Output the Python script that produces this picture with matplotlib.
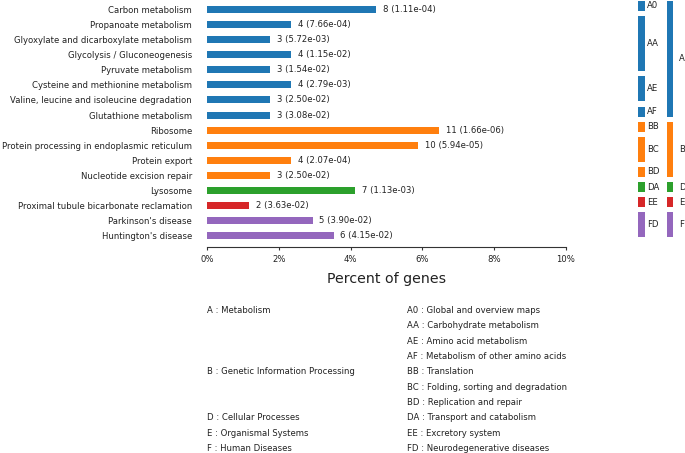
import matplotlib
matplotlib.use("Agg")
import matplotlib.pyplot as plt

categories = [
    "Carbon metabolism", "Propanoate metabolism",
    "Glyoxylate and dicarboxylate metabolism", "Glycolysis / Gluconeogenesis",
    "Pyruvate metabolism", "Cysteine and methionine metabolism",
    "Valine, leucine and isoleucine degradation", "Glutathione metabolism",
    "Ribosome", "Protein processing in endoplasmic reticulum",
    "Protein export", "Nucleotide excision repair", "Lysosome",
    "Proximal tubule bicarbonate reclamation", "Parkinson's disease",
    "Huntington's disease",
]
counts = [8, 4, 3, 4, 3, 4, 3, 3, 11, 10, 4, 3, 7, 2, 5, 6]
pvalues = ["1.11e-04", "7.66e-04", "5.72e-03", "1.15e-02", "1.54e-02",
           "2.79e-03", "2.50e-02", "3.08e-02", "1.66e-06", "5.94e-05",
           "2.07e-04", "2.50e-02", "1.13e-03", "3.63e-02", "3.90e-02",
           "4.15e-02"]
percents = [4.71, 2.35, 1.76, 2.35, 1.76, 2.35, 1.76, 1.76,
            6.47, 5.88, 2.35, 1.76, 4.12, 1.18, 2.94, 3.53]
main_class = ["A"] * 8 + ["B"] * 4 + ["D", "E", "F", "F"]
sub_class = ["A0", "AA", "AA", "AA", "AA", "AE", "AE", "AF",
             "BB", "BC", "BC", "BD", "DA", "EE", "FD", "FD"]
main_names = {"A": "Metabolism", "B": "Genetic Information Processing",
              "D": "Cellular Processes", "E": "Organismal Systems",
              "F": "Human Diseases"}
sub_names = {"A0": "Global and overview maps", "AA": "Carbohydrate metabolism",
             "AE": "Amino acid metabolism", "AF": "Metabolism of other amino acids",
             "BB": "Translation", "BC": "Folding, sorting and degradation",
             "BD": "Replication and repair", "DA": "Transport and catabolism",
             "EE": "Excretory system", "FD": "Neurodegenerative diseases"}
xticks = [0, 2, 4, 6, 8, 10]
xticklabels = ["0%", "2%", "4%", "6%", "8%", "10%"]

colors = {"A": "#1f77b4", "B": "#ff7f0e", "D": "#2ca02c",
          "E": "#d62728", "F": "#9467bd"}

W, H = 685, 453
fig = plt.figure(figsize=(W / 100, H / 100), dpi=100)
FS = 6.1
TXT = "#222222"

ax_bottom = (H - 247.3) / H
ax_top = 1.0
ylim = (15.76, -0.62)

ax = fig.add_axes([207 / W, ax_bottom, (566 - 207) / W, ax_top - ax_bottom])
ypos = list(range(len(categories)))
bar_colors = [colors[m] for m in main_class]
ax.barh(ypos, percents, height=0.46, color=bar_colors)
for y, p, c, pv in zip(ypos, percents, counts, pvalues):
    ax.annotate(f"{c} ({pv})", xy=(p, y), xytext=(4.8, 0),
                textcoords="offset points", ha="left", va="center",
                fontsize=FS, color=TXT)
ax.set_yticks(ypos)
ax.set_yticklabels(categories, fontsize=FS, color=TXT)
ax.tick_params(axis="y", length=0, pad=10.8)
ax.set_xlim(0, 10)
ax.set_ylim(*ylim)
ax.set_xticks(xticks)
ax.set_xticklabels(xticklabels, fontsize=FS, color=TXT)
ax.tick_params(axis="x", length=2.5, width=0.8, color="#333333", pad=3)
for s in ["top", "right", "left"]:
    ax.spines[s].set_visible(False)
ax.spines["bottom"].set_color("#333333")
ax.spines["bottom"].set_linewidth(0.8)
ax.set_xlabel("Percent of genes", fontsize=10.2, color=TXT, labelpad=6)

# side group bars
sx = fig.add_axes([630 / W, ax_bottom, 55 / W, ax_top - ax_bottom])
sx.set_xlim(0, 55)
sx.set_ylim(*ylim)
sx.axis("off")


def groups(labels):
    out = []
    start = 0
    for i in range(1, len(labels) + 1):
        if i == len(labels) or labels[i] != labels[start]:
            out.append((labels[start], start, i - start))
            start = i
    return out


for col_x, lab_x, labels in [(11.65, 16.7, sub_class), (40.0, 49.0, main_class)]:
    for lab, start, n in groups(labels):
        c = colors[main_class[start]]
        sx.bar(col_x, n - 0.34, bottom=start - 0.56, width=6.7, color=c,
               align="center")
        sx.text(lab_x, start - 0.56 + (n - 0.34) / 2, lab, ha="left",
                va="center", fontsize=FS, color=TXT)

# text legend below
row0 = 310.7
step = 15.3
sub_groups = groups(sub_class)
seen = set()
for k, (lab, start, n) in enumerate(sub_groups):
    yy = 1 - (row0 + step * k) / H
    fig.text(407 / W, yy, f"{lab} : {sub_names[lab]}", fontsize=FS,
             color=TXT, ha="left", va="center")
    m = main_class[start]
    if m not in seen:
        seen.add(m)
        fig.text(207 / W, yy, f"{m} : {main_names[m]}", fontsize=FS,
                 color=TXT, ha="left", va="center")

fig.savefig("out.png", dpi=100)
